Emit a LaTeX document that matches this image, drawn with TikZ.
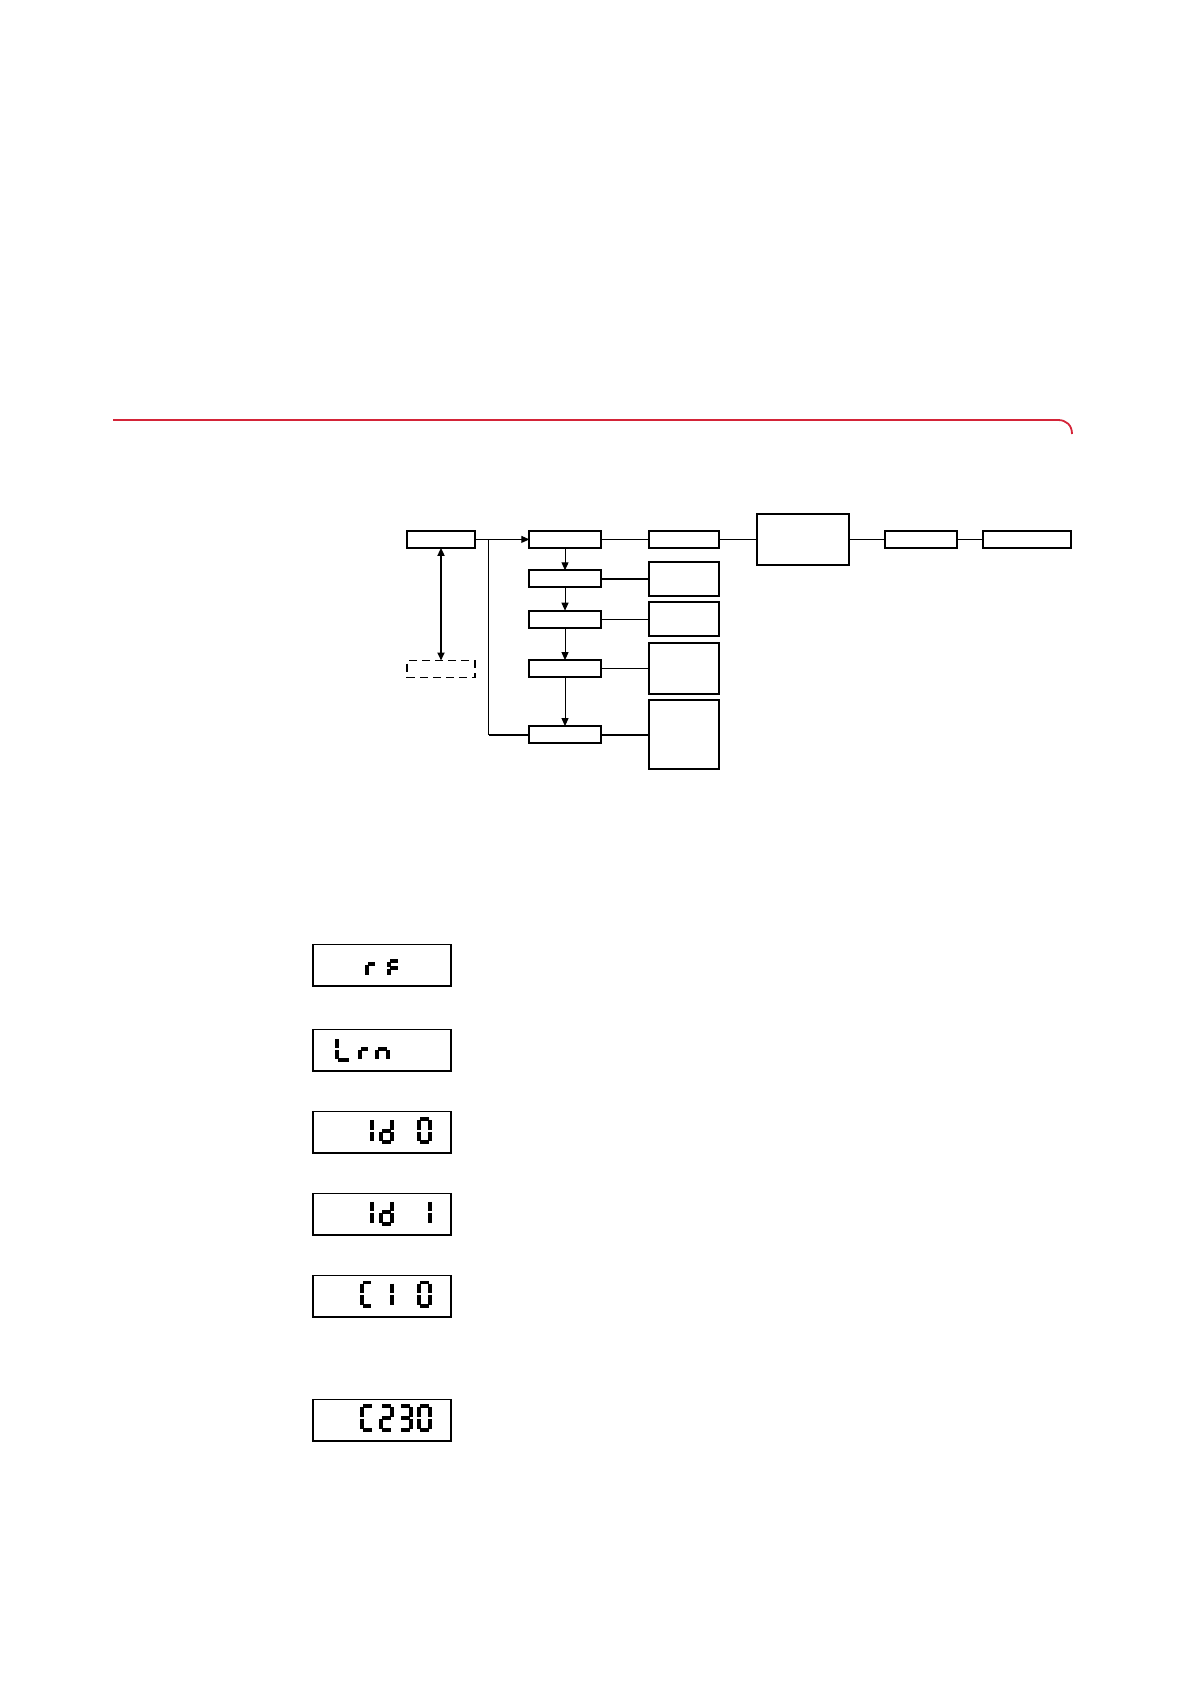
\documentclass[tikz,border=0pt]{standalone}
\usetikzlibrary{arrows.meta}
\definecolor{rulered}{RGB}{212,36,56}
\tikzset{
 box/.style={draw, line width=0.85pt, inner sep=0pt, outer sep=0pt, minimum height=8.5pt},
 boxthick/.style={box, line width=1pt},
 dbox/.style={box, dash pattern=on 4pt off 2.5pt, line width=0.75pt},
 wire/.style={line width=0.5pt},
 wirethick/.style={line width=0.9pt},
 arr/.style={-{Triangle[length=4pt,width=3.5pt]}},
 dblarr/.style={{Triangle[length=4pt,width=3.5pt]}-{Triangle[length=4pt,width=3.5pt]}},
 disp/.style={draw, line width=0.8pt, inner sep=0pt, outer sep=0pt, minimum width=69.15pt, minimum height=20.7pt},
 segl/.style={line width=1.9pt, line cap=butt},
}
\def\sevgap{1.1}
\def\segmenta{\draw[segl] (\sevgap,0) -- (\segw-\sevgap,0);}
\def\segmentb{\draw[segl] (\segw,\sevgap) -- (\segw,\segm-\sevgap);}
\def\segmentc{\draw[segl] (\segw,\segm+\sevgap) -- (\segw,\segh-\sevgap);}
\def\segmentd{\draw[segl] (\sevgap,\segh) -- (\segw-\sevgap,\segh);}
\def\segmente{\draw[segl] (0,\segm+\sevgap) -- (0,\segh-\sevgap);}
\def\segmentf{\draw[segl] (0,\sevgap) -- (0,\segm-\sevgap);}
\def\segmentg{\draw[segl] (\sevgap,\segm) -- (\segw-\sevgap,\segm);}
\newcommand\sevenseg[5]{%
 \begin{scope}[shift={(#1+1.9,#2+1.9)}]
  \pgfmathsetmacro\segw{#3-3.8}
  \pgfmathsetmacro\segh{#4-3.8}
  \pgfmathsetmacro\segm{\segh/2}
  \foreach \s in {#5}{\csname segment\s\endcsname}
 \end{scope}}
\begin{document}
\begin{tikzpicture}[x=0.5pt,y=-0.5pt]
\useasboundingbox (0,0) rectangle (1190,1684);
% red rule
\draw[rulered, line width=0.9pt] (113,420) -- (1058,420) .. controls (1066,420) and (1072,425) .. (1072,434);

% flow chart
\node[box, minimum width=34pt] (A) at (441,539.4) {};
\node[dbox, minimum width=34pt] (A2) at (441,669) {};
\node[boxthick, minimum width=35.7pt] (B) at (565,539.4) {};
\node[box, minimum width=35.7pt] (C) at (565,578.8) {};
\node[boxthick, minimum width=35.7pt] (D) at (565,619.2) {};
\node[box, minimum width=35.7pt] (E) at (565,668.6) {};
\node[box, minimum width=35.7pt] (F) at (565,734.6) {};
\node[boxthick, minimum width=35.3pt] (G) at (684,539.4) {};
\node[boxthick, minimum width=35.3pt, minimum height=17.15pt] (H) at (684,578.8) {};
\node[box, minimum width=35.3pt, minimum height=17pt] (I) at (684,619.2) {};
\node[box, minimum width=35.3pt, minimum height=25.35pt] (J) at (684,668.6) {};
\node[boxthick, minimum width=35.3pt, minimum height=34.2pt] (K) at (684,734.6) {};
\node[boxthick, minimum width=46pt, minimum height=25.5pt] (L) at (803.3,539.4) {};
\node[boxthick, minimum width=35.7pt] (M) at (921,539.4) {};
\node[boxthick, minimum width=43.7pt] (N) at (1027,539.4) {};

\coordinate (j) at (488.7,539.4);
\draw[wire, arr] (A.east) -- (B.west);
\draw[wire] (j) -- (j |- F.west);
\draw[wirethick] (j |- F.west) -- (F.west);
\draw[wirethick, dblarr] (A.south) -- (A2.north);
\draw[wire, arr] (B.south) -- (C.north);
\draw[wire, arr] (C.south) -- (D.north);
\draw[wire, arr] (D.south) -- (E.north);
\draw[wire, arr] (E.south) -- (F.north);
\draw[wire] (B.east) -- (G.west);
\draw[wirethick] (C.east) -- (H.west);
\draw[wire] (D.east) -- (I.west);
\draw[wire] (E.east) -- (J.west);
\draw[wirethick] (F.east) -- (K.west);
\draw[wire] (G.east) -- (L.west);
\draw[wire] (L.east) -- (M.west);
\draw[wire] (M.east) -- (N.west);

% displays
\node[disp] (d1) at (381.85,965.35) {};
\node[disp] (d2) at (381.85,1050.15) {};
\node[disp] (d3) at (381.85,1132.2) {};
\node[disp] (d4) at (381.85,1214.15) {};
\node[disp] (d5) at (381.85,1296) {};
\node[disp] (d6) at (381.85,1420) {};

% rF
\sevenseg{365}{950.6}{13}{27.4}{e,g}
\sevenseg{387}{958.7}{13.5}{19.3}{a,e,f,g}
% Lrn
\sevenseg{335}{1036.3}{17}{25.7}{d,e,f}
\sevenseg{358}{1036.3}{12.5}{25.7}{e,g}
\sevenseg{375}{1036.3}{14.5}{25.7}{c,e,g}
% Id 0
\sevenseg{359}{1117.3}{15}{26.8}{b,c}
\sevenseg{379}{1117.3}{15}{26.8}{b,c,d,e,g}
\sevenseg{417}{1117.3}{15}{26.8}{a,b,c,d,e,f}
% Id 1
\sevenseg{359}{1198.9}{15}{26.8}{b,c}
\sevenseg{379}{1198.9}{15}{26.8}{b,c,d,e,g}
\sevenseg{417}{1198.9}{15}{26.8}{b,c}
% C 1 0
\sevenseg{360}{1280.6}{14}{27.4}{a,d,e,f}
\sevenseg{379}{1280.6}{15}{27.4}{b,c}
\sevenseg{417}{1280.6}{15}{27.4}{a,b,c,d,e,f}
% C230
\sevenseg{360}{1404.4}{15}{27.8}{a,d,e,f}
\sevenseg{379}{1404.4}{15}{27.8}{a,b,d,e,g}
\sevenseg{398}{1404.4}{15}{27.8}{a,b,c,d,g}
\sevenseg{417}{1404.4}{15}{27.8}{a,b,c,d,e,f}
\end{tikzpicture}
\end{document}
